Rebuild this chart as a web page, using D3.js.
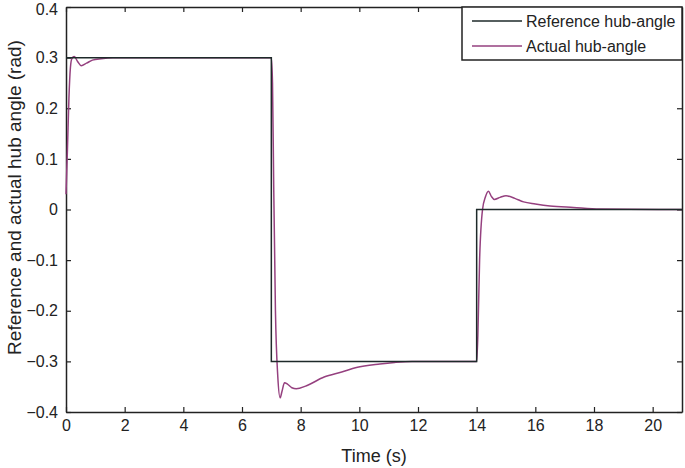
<!DOCTYPE html>
<html>
<head>
<meta charset="utf-8">
<script src="https://cdn.jsdelivr.net/npm/d3@7"></script>
<style>
  body { margin: 0; background: #fff; }
  text { font-family: "Liberation Sans", Arial, sans-serif; fill: #222; }
</style>
</head>
<body>
<script>
// Reference hub-angle (step profile)
const refTime = [0, 7, 7, 14, 14, 21];
const refAngle = [0.3, 0.3, -0.3, -0.3, 0, 0];

// Actual hub-angle
const actTime = [0, 0.05, 0.1, 0.15, 0.2, 0.28, 0.4, 0.52, 0.7, 0.9, 1.2, 1.6, 7,
  7.04, 7.08, 7.14, 7.22, 7.3, 7.36, 7.45, 7.55, 7.7, 7.85, 8.2, 8.8, 9.4, 9.9, 10.7, 11.2, 11.8, 14,
  14.04, 14.1, 14.2, 14.3, 14.4, 14.5, 14.6, 14.8, 15.0, 15.3, 15.6, 16.0, 16.5, 17.3, 18.2, 21];
const actAngle = [0.03, 0.12, 0.22, 0.28, 0.298, 0.302, 0.292, 0.284, 0.289, 0.295, 0.298, 0.3, 0.3,
  0.25, 0.05, -0.2, -0.33, -0.372, -0.36, -0.342, -0.345, -0.352, -0.354, -0.348, -0.331, -0.321, -0.312, -0.305, -0.302, -0.3, -0.3,
  -0.25, -0.1, 0.0, 0.025, 0.036, 0.026, 0.02, 0.024, 0.027, 0.022, 0.015, 0.011, 0.007, 0.004, 0.001, 0];

const xTicks = d3.range(0, 21, 2);
const yTicks = [-0.4, -0.3, -0.2, -0.1, 0, 0.1, 0.2, 0.3, 0.4];
const legendLabels = ["Reference hub-angle", "Actual hub-angle"];
const colors = ["#1e2a2a", "#95407f"];

const W = 685, H = 468;
const margin = { top: 7, right: 3, bottom: 56, left: 66 };
const width = W - margin.left - margin.right;
const height = H - margin.top - margin.bottom;

const svg = d3.select('body').append('svg')
  .attr('width', W).attr('height', H);

const x = d3.scaleLinear().domain([0, 21]).range([0, width]);
const y = d3.scaleLinear().domain([-0.4, 0.4]).range([height, 0]);

const chart = svg.append('g')
  .attr('transform', `translate(${margin.left},${margin.top})`);

// axes with inward ticks
const fmtY = d => d === 0 ? "0" : d3.format(".1f")(d);
const xAxis = chart.append('g').attr('transform', `translate(0,${height})`)
  .call(d3.axisBottom(x).tickValues(xTicks).tickSizeInner(-5).tickSizeOuter(0).tickPadding(8));
const xTop = chart.append('g')
  .call(d3.axisTop(x).tickValues(xTicks).tickSizeInner(-5).tickSizeOuter(0).tickFormat(''));
const yAxis = chart.append('g')
  .call(d3.axisLeft(y).tickValues(yTicks).tickFormat(fmtY).tickSizeInner(-5).tickSizeOuter(0).tickPadding(8));
const yRight = chart.append('g').attr('transform', `translate(${width},0)`)
  .call(d3.axisRight(y).tickValues(yTicks).tickSizeInner(-5).tickSizeOuter(0).tickFormat(''));

[xAxis, xTop, yAxis, yRight].forEach(a => {
  a.selectAll('path').attr('stroke', '#222').attr('stroke-width', 1.5);
  a.selectAll('line').attr('stroke', '#222').attr('stroke-width', 1.2);
  a.selectAll('text').style('font-size', '16px').attr('fill', '#222');
});
// keep the top label inside the picture
yAxis.selectAll('text').filter(d => d === 0.4).attr('dy', '0.45em');

const line = d3.line()
  .x((d) => x(d[0]))
  .y((d) => y(d[1]))
  .curve(d3.curveMonotoneX);

const stepLine = d3.line()
  .x((d) => x(d[0]))
  .y((d) => y(d[1]));

chart.append('path')
  .datum(d3.zip(actTime, actAngle))
  .attr('fill', 'none')
  .attr('stroke', colors[1])
  .attr('stroke-width', 1.5)
  .attr('d', line);

chart.append('path')
  .datum(d3.zip(refTime, refAngle))
  .attr('fill', 'none')
  .attr('stroke', colors[0])
  .attr('stroke-width', 1.5)
  .attr('d', stepLine);

// axis labels
svg.append('text')
  .attr('x', margin.left + x(10.5)).attr('y', 462)
  .attr('text-anchor', 'middle')
  .style('font-size', '18px')
  .text('Time (s)');

svg.append('text')
  .attr('transform', `translate(21,${margin.top + height / 2 - 12}) rotate(-90)`)
  .attr('text-anchor', 'middle')
  .style('font-size', '19px')
  .text('Reference and actual hub angle (rad)');

// legend
const lg = svg.append('g').attr('transform', 'translate(462,7)');
lg.append('rect')
  .attr('width', 220).attr('height', 53)
  .attr('fill', '#fff').attr('stroke', '#222').attr('stroke-width', 1.5);
legendLabels.forEach((lab, i) => {
  const yy = 14 + i * 25;
  lg.append('line')
    .attr('x1', 10).attr('x2', 60).attr('y1', yy).attr('y2', yy)
    .attr('stroke', colors[i]).attr('stroke-width', 1.3);
  lg.append('text')
    .attr('x', 64).attr('y', yy + 6)
    .style('font-size', '16px')
    .text(lab);
});
</script>
</body>
</html>
